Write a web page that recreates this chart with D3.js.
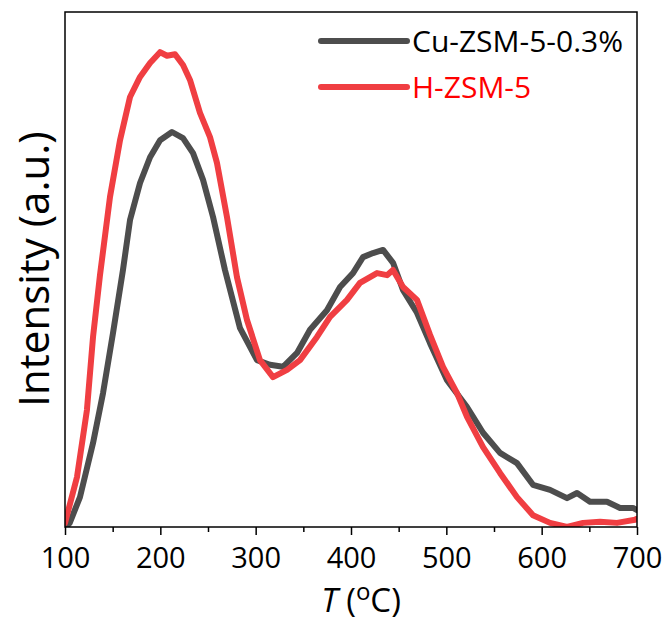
<!DOCTYPE html>
<html>
<head>
<meta charset="utf-8">
<script src="https://cdn.jsdelivr.net/npm/d3@7"></script>
<style>
  body { margin: 0; background: #fff; }
  text { font-family: "Open Sans", "Noto Sans", sans-serif; }
</style>
</head>
<body>
<div id="chart"></div>
<script>
// Temperature (°C) and intensity (a.u.)
const cuTemp = [101, 105, 115.7, 129.4, 139.9, 150.4, 160.8, 168.2, 178.7, 189.2, 199.7, 212.2, 223.8, 234.3, 244.8, 255.3, 267.8, 283.6, 301.4, 315, 328.7, 343.4, 357, 374.8, 388.5, 402.1, 412.6, 423.1, 433.6, 444.1, 454.6, 469.2, 482.9, 500.7, 521.7, 538.5, 556.3, 574.1, 590.9, 608.8, 626.6, 637.1, 650.7, 668.5, 682.2, 695.8, 700];
const cuValue = [0, 0.8, 5.8, 16.3, 26.0, 37.7, 49.9, 59.6, 66.8, 71.8, 75.1, 76.7, 75.5, 72.6, 67.4, 60.2, 49.9, 38.6, 32.4, 31.5, 31.1, 33.8, 38.3, 42.1, 46.6, 49.3, 52.4, 53.2, 53.8, 51.3, 46.0, 41.6, 35.7, 28.5, 23.3, 18.3, 14.4, 12.4, 8.2, 7.2, 5.6, 6.6, 4.9, 4.9, 3.7, 3.7, 3.3];

const hTemp = [100, 112.6, 123, 129.4, 136.7, 147.2, 157.7, 168.2, 178.7, 189.2, 199.7, 207, 215.4, 223.8, 231.1, 241.6, 252.1, 259.4, 269.9, 280.4, 290.9, 304.5, 318.2, 332.9, 346.5, 364.3, 378, 395.8, 409.4, 427.3, 437.8, 444, 454.6, 469.2, 482.9, 496.5, 511.2, 521.7, 538.5, 556.3, 574.1, 590.9, 608.8, 626.6, 643.4, 661.2, 679, 697.9, 700];
const hValue = [0.8, 9.7, 22.7, 36.9, 48.9, 64.1, 75.1, 83.5, 87.4, 90.1, 92.2, 91.5, 91.8, 89.7, 86.8, 80.4, 75.7, 70.7, 60.2, 48.5, 40.2, 32.4, 29.1, 30.5, 32.4, 36.9, 40.8, 44.1, 47.4, 49.3, 48.9, 49.9, 46.6, 44.1, 37.3, 31.1, 26.0, 21.4, 15.5, 10.5, 5.8, 2.3, 0.8, 0, 0.8, 1.0, 0.8, 1.4, 1.6];

const seriesNames = ["Cu-ZSM-5-0.3%", "H-ZSM-5"];
const majorTicks = [100, 200, 300, 400, 500, 600, 700];
const minorTicks = [150, 250, 350, 450, 550, 650];

const lineColors = ["#4d4d4d", "#f03e42"];
const textColors = ["#000000", "#ff0000"];

const width = 667, height = 623;
const margin = {top: 12, right: 30, bottom: 96, left: 65};

const svg = d3.select("#chart").append("svg")
    .attr("width", width)
    .attr("height", height);

const x = d3.scaleLinear()
    .domain([100, 700])
    .range([margin.left, width - margin.right]);

const y = d3.scaleLinear()
    .domain([0, 100])
    .range([height - margin.bottom, margin.top]);

const series = [
    cuTemp.map((t, i) => ({t: t, v: cuValue[i]})),
    hTemp.map((t, i) => ({t: t, v: hValue[i]}))
];

const line = d3.line()
    .x(d => x(d.t))
    .y(d => y(d.v))
    .curve(d3.curveLinear);

svg.append("clipPath").attr("id", "plot-clip")
    .append("rect")
    .attr("x", margin.left)
    .attr("y", margin.top - 4)
    .attr("width", width - margin.left - margin.right)
    .attr("height", height - margin.top - margin.bottom + 4);

// curves (gray first, red on top)
svg.append("g")
    .attr("clip-path", "url(#plot-clip)")
    .selectAll("path")
    .data(series)
    .enter()
    .append("path")
    .attr("d", line)
    .attr("fill", "none")
    .attr("stroke", (d, i) => lineColors[i])
    .attr("stroke-width", 6)
    .attr("stroke-linejoin", "round")
    .attr("stroke-linecap", "round");

// frame
svg.append("rect")
    .attr("x", margin.left)
    .attr("y", margin.top)
    .attr("width", width - margin.left - margin.right)
    .attr("height", height - margin.top - margin.bottom)
    .attr("fill", "none")
    .attr("stroke", "#000")
    .attr("stroke-width", 1.5);

// bottom axis with major and minor ticks
const xAxis = svg.append("g")
    .attr("transform", `translate(0,${height - margin.bottom})`);

xAxis.call(d3.axisBottom(x).tickValues(majorTicks).tickSize(8).tickPadding(12).tickFormat(d3.format("d")));
xAxis.select(".domain").remove();
xAxis.selectAll(".tick line").attr("stroke-width", 1.5);
xAxis.selectAll(".tick text")
    .attr("font-size", 29)
    .attr("fill", "#000")
    .style("font-family", "'Open Sans', sans-serif");

svg.append("g")
    .attr("transform", `translate(0,${height - margin.bottom})`)
    .call(d3.axisBottom(x).tickValues(minorTicks).tickSize(5).tickFormat(""))
    .call(g => g.select(".domain").remove())
    .selectAll(".tick line").attr("stroke-width", 1.5);

// axis titles
const xTitle = svg.append("text")
    .attr("x", 361)
    .attr("y", 612)
    .attr("text-anchor", "middle")
    .attr("font-size", 33)
    .attr("fill", "#000");
xTitle.append("tspan").attr("font-style", "italic").text("T");
xTitle.append("tspan").text(" (");
xTitle.append("tspan").attr("font-size", 24).attr("dy", -12).text("o");
xTitle.append("tspan").attr("dy", 12).text("C)");

svg.append("text")
    .attr("transform", `translate(49,269) rotate(-90)`)
    .attr("text-anchor", "middle")
    .attr("font-size", 42)
    .attr("fill", "#000")
    .text("Intensity (a.u.)");

// legend
const legend = svg.append("g")
    .selectAll("g")
    .data(seriesNames)
    .enter()
    .append("g")
    .attr("transform", (d, i) => `translate(321,${41 + i * 46})`);

legend.append("line")
    .attr("x1", 0)
    .attr("x2", 86)
    .attr("stroke", (d, i) => lineColors[i])
    .attr("stroke-width", 6)
    .attr("stroke-linecap", "round");

legend.append("text")
    .attr("x", 91)
    .attr("y", 11)
    .attr("font-size", 30)
    .attr("fill", (d, i) => textColors[i])
    .text(d => d);
</script>
</body>
</html>
